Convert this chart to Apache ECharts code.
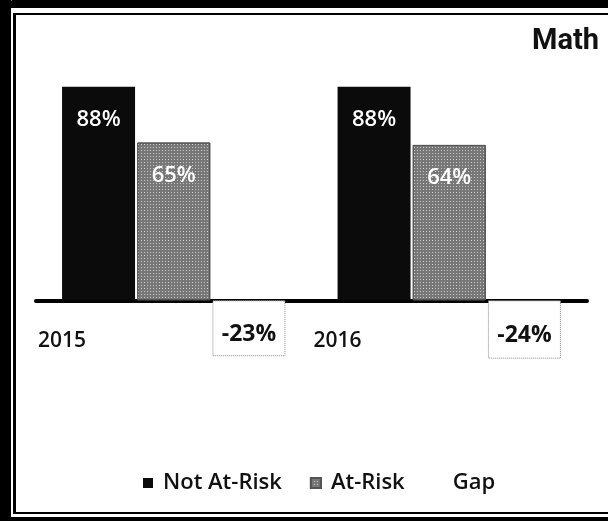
<!DOCTYPE html>
<html>
<head>
<meta charset="utf-8">
<script src="https://cdn.jsdelivr.net/npm/echarts@6/dist/echarts.min.js"></script>
<style>
html,body{margin:0;padding:0;background:#fff;}
#main{width:608px;height:521px;}
</style>
</head>
<body>
<div id="main"></div>
<script>
var categories = ['2015', '2016'];
var yearLabels = ['2015', '2016', ''];
var notAtRisk = [88, 88];
var atRisk = [65, 64];
var gap = [-23, -24];
var seriesNames = ['Not At-Risk', 'At-Risk', 'Gap'];
var title = 'Math';

var chart = echarts.init(document.getElementById('main'), null, {renderer: 'canvas'});
var FONT = 'Open Sans';

var option = {
  backgroundColor: '#ffffff',
  animation: false,
  textStyle: {fontFamily: FONT},
  title: {
    text: title, right: 4, top: 22,
    textStyle: {fontFamily: 'Roboto', fontSize: 29, fontWeight: 'bold', color: '#111'}
  },
  legend: {
    data: [
      {name: seriesNames[0]},
      {name: seriesNames[1]},
      {name: seriesNames[2], itemStyle: {color: 'rgba(0,0,0,0)', borderWidth: 0}}
    ],
    top: 467, left: 138, icon: 'rect',
    itemWidth: 10, itemHeight: 10, itemGap: 28,
    textStyle: {fontFamily: FONT, fontSize: 22, fontWeight: 600, color: '#111', padding: [0, 0, 0, 5]}
  },
  grid: {left: 36, right: 21, top: 57.5, bottom: 123.5, containLabel: false},
  xAxis: [{
    type: 'category', data: categories,
    axisLine: {show: true, onZero: true, lineStyle: {color: '#000', width: 4}},
    axisTick: {show: false}, axisLabel: {show: false}
  }, {
    type: 'category', data: yearLabels, boundaryGap: false, position: 'bottom',
    axisLine: {show: false}, axisTick: {show: false}, splitLine: {show: false},
    axisLabel: {show: true, align: 'left', margin: -67, fontFamily: FONT, fontSize: 21, fontWeight: 600, color: '#111', padding: [0, 0, 0, 2]}
  }],
  yAxis: {type: 'value', min: -40, max: 100, show: false, splitLine: {show: false}},
  series: [{
    name: seriesNames[0], type: 'bar', data: notAtRisk, barWidth: 73, barGap: '3%',
    itemStyle: {color: '#0b0b0b'},
    label: {show: true, position: 'insideTop', distance: 22, formatter: '{c}%', color: '#fff', fontFamily: FONT, fontSize: 22, fontWeight: 600}
  }, {
    name: seriesNames[1], type: 'bar', data: atRisk, barWidth: 73, barGap: '3%',
    itemStyle: {color: '#777777', borderColor: '#555', borderWidth: 1,
      decal: {symbol: 'rect', symbolSize: 1, dashArrayX: [1, 2], dashArrayY: [1, 2], color: 'rgba(255,255,255,0.6)', rotation: 0}},
    label: {show: true, position: 'insideTop', distance: 22, formatter: '{c}%', color: '#fff', fontFamily: FONT, fontSize: 22, fontWeight: 600}
  }, {
    name: seriesNames[2], type: 'bar', data: gap, barWidth: 73, barGap: '3%',
    itemStyle: {color: '#fff', borderColor: '#888', borderWidth: 1, borderType: 'dotted'},
    label: {show: true, position: 'inside', offset: [0, 6], formatter: '{c}%', color: '#111', fontFamily: FONT, fontSize: 23, fontWeight: 'bold'}
  }],
  graphic: [
    {type: 'rect', shape: {x: 0, y: 0, width: 11, height: 521}, style: {fill: '#000'}, silent: true},
    {type: 'polygon', shape: {points: [[0, 12], [12, 0], [608, 0], [608, 8], [0, 8]]}, style: {fill: '#000'}, silent: true},
    {type: 'rect', shape: {x: 0, y: 517, width: 608, height: 4}, style: {fill: '#000'}, silent: true},
    {type: 'rect', shape: {x: 13, y: 13, width: 3, height: 501}, style: {fill: '#000'}, silent: true},
    {type: 'rect', shape: {x: 13, y: 13, width: 595, height: 2}, style: {fill: '#000'}, silent: true},
    {type: 'rect', shape: {x: 13, y: 512, width: 595, height: 2}, style: {fill: '#000'}, silent: true}
  ]
};
chart.setOption(option);
</script>
</body>
</html>
